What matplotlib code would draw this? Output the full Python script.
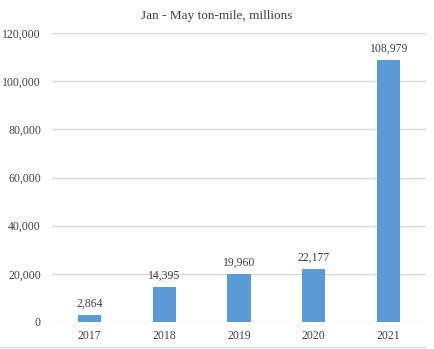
import matplotlib
matplotlib.use("Agg")
import matplotlib.pyplot as plt
from matplotlib.lines import Line2D

years = ["2017", "2018", "2019", "2020", "2021"]
ton_miles = [2864, 14395, 19960, 22177, 108979]
y_ticks = [0, 20000, 40000, 60000, 80000, 100000, 120000]

plt.rcParams["font.family"] = ["Liberation Serif", "DejaVu Serif"]
text_color = "#404040"

fig = plt.figure(figsize=(4.34, 3.49), dpi=100)
ax = fig.add_axes([0.1198, 0.0774, 0.862, 0.828])

x = range(len(years))
bars = ax.bar(x, ton_miles, width=0.31, color="#5B9BD5", zorder=3)

for xi, v in zip(x, ton_miles):
    ax.text(xi, v + 2200, f"{v:,}", ha="center", va="bottom",
            fontsize=8.5, color=text_color)

ax.set_xlim(-0.5, len(years) - 0.5)
ax.set_ylim(0, 120000)
ax.set_yticks(y_ticks)
ax.set_yticklabels([f"{t:,}" for t in y_ticks])
ax.set_xticks(list(x))
ax.set_xticklabels(years)
ax.tick_params(axis="both", length=0, labelsize=8.5, labelcolor=text_color)
ax.tick_params(axis="y", pad=8)
ax.tick_params(axis="x", pad=6)
ax.grid(axis="y", color="#D9D9D9", linewidth=1, zorder=0)
for s in ax.spines.values():
    s.set_visible(False)

fig.text(0.5, 0.955, "Jan - May ton-mile, millions", ha="center", va="center",
         fontsize=9.5, color=text_color)

fig.add_artist(Line2D([0, 0.982], [0.005, 0.005], color="#D9D9D9",
                      linewidth=1, transform=fig.transFigure))

fig.savefig("out.png", dpi=100)
